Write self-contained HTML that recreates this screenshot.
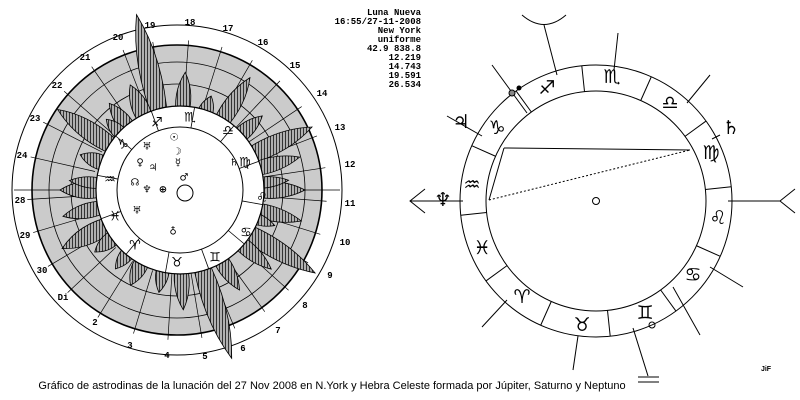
<!DOCTYPE html>
<html><head><meta charset="utf-8"><style>
html,body{margin:0;padding:0;background:#fff;width:800px;height:400px;overflow:hidden}
svg{display:block}
.m{font-family:"Liberation Mono",monospace;font-weight:bold;font-size:9px}
.n{font-family:"Liberation Mono",monospace;font-weight:bold;font-size:9px}
.g{font-family:"DejaVu Sans",sans-serif;font-size:12px;text-anchor:middle;dominant-baseline:central;font-weight:bold}
</style></head><body>
<svg id="s" width="800" height="400" viewBox="0 0 800 400" xmlns="http://www.w3.org/2000/svg">
<defs>
<pattern id="hatch" width="3" height="3" patternUnits="userSpaceOnUse"><rect width="3" height="3" fill="#b0b0b0"/><rect width="1" height="3" fill="#333"/></pattern>
</defs>
<circle cx="177" cy="190" r="165" fill="#fff" stroke="#000" stroke-width="1"/>
<circle cx="177" cy="190" r="145" fill="#cbcbcb" stroke="#000" stroke-width="1.6"/>
<circle cx="177" cy="190" r="128" fill="none" stroke="#000" stroke-width="0.8"/>
<circle cx="177" cy="190" r="106" fill="none" stroke="#000" stroke-width="0.8"/>
<g id="rad"></g>
<line x1="14" y1="190" x2="340" y2="190" stroke="#000" stroke-width="0.8"/>
<g id="pet"></g>
<circle cx="180" cy="190" r="84" fill="#fff" stroke="#000" stroke-width="1.2"/>
<circle cx="180" cy="190" r="63" fill="#fff" stroke="#000" stroke-width="1"/>
<g id="lring"></g>
<g class="g" style="font-size:13px">
<text x="157" y="123">♐</text><text x="190" y="118">♏</text><text x="228" y="131">♎</text><text x="245" y="163">♍</text>
<text x="262" y="198">♌</text><text x="246" y="233">♋</text><text x="215" y="258">♊</text><text x="177" y="263">♉</text>
<text x="135" y="246">♈</text><text x="115" y="217">♓</text><text x="110" y="180">♒</text><text x="123" y="145">♑</text>
</g>
<g class="g" style="font-size:10px">
<text x="174" y="138">☉</text><text x="177" y="152">☽</text><text x="178" y="163">☿</text><text x="184" y="178">♂</text>
<text x="163" y="190">⊕</text><text x="147" y="190">♆</text><text x="153" y="168">♃</text><text x="140" y="163">♀</text>
<text x="147" y="147">♅</text><text x="135" y="183">☊</text><text x="137" y="211">♅</text><text x="173" y="232">♁</text><text x="234" y="163">♄</text>
</g>
<circle cx="185" cy="193" r="8" fill="none" stroke="#000"/>
<g class="n" id="nums"></g>
<g class="m" text-anchor="end">
<text x="421" y="15">Luna Nueva</text><text x="421" y="24">16:55/27-11-2008</text><text x="421" y="33">New York</text>
<text x="421" y="42">uniforme</text><text x="421" y="51">42.9 838.8</text><text x="421" y="60">12.219</text>
<text x="421" y="69">14.743</text><text x="421" y="78">19.591</text><text x="421" y="87">26.534</text>
</g>
<circle cx="596" cy="201" r="136" fill="none" stroke="#000" stroke-width="1"/>
<circle cx="596" cy="201" r="110" fill="none" stroke="#000" stroke-width="1"/>
<g id="rring"></g>
<g class="g" style="font-size:19px">
<text x="718" y="218">♌</text><text x="693" y="275">♋</text><text x="645" y="313">♊</text><text x="582" y="325">♉</text>
<text x="522" y="297">♈</text><text x="482" y="248">♓</text><text x="472" y="185">♒</text><text x="497" y="128">♑</text>
<text x="547" y="88">♐</text><text x="612" y="77">♏</text><text x="670" y="103">♎</text><text x="711" y="153">♍</text>
<text x="731" y="128">♄</text><text x="461" y="122">♃</text><text x="443" y="200">♆</text>
</g>
<g stroke="#000" stroke-width="1" fill="none">
<path d="M522 15 Q544 34 566 15"/><line x1="544" y1="25" x2="557" y2="75"/>
<line x1="618" y1="33" x2="614" y2="70"/>
<line x1="710" y1="75" x2="687" y2="103"/>
<line x1="720" y1="135" x2="712" y2="139"/>
<line x1="728" y1="201" x2="780" y2="201"/><polyline points="795,189 780,201 795,213"/>
<line x1="710" y1="267" x2="743" y2="287"/>
<line x1="673" y1="287" x2="700" y2="335"/>
<line x1="633" y1="328" x2="648" y2="376"/><line x1="638" y1="377" x2="659" y2="377"/><line x1="638" y1="382" x2="659" y2="382"/>
<line x1="578" y1="336" x2="573" y2="370"/>
<line x1="507" y1="300" x2="482" y2="327"/>
<line x1="410" y1="201" x2="463" y2="201"/><polyline points="425,189 410,201 425,213"/>
<line x1="447" y1="116" x2="482" y2="136"/>
<line x1="492" y1="65" x2="527" y2="113"/>
<line x1="504" y1="148" x2="690" y2="150"/><line x1="504" y1="148" x2="489" y2="200"/>
<line x1="489" y1="200" x2="690" y2="150" stroke-dasharray="2,2"/>
<circle cx="596" cy="201" r="3.5"/><circle cx="652" cy="325" r="3"/>
</g>
<circle cx="512" cy="93" r="3" fill="#888" stroke="#000"/><circle cx="519" cy="88" r="2.5" fill="#000"/>
<text x="766" y="371" font-family="Liberation Sans,sans-serif" font-size="7" font-weight="bold" text-anchor="middle">JiF</text>
<text x="332" y="389" font-family="Liberation Sans,sans-serif" font-size="11" text-anchor="middle">Gráfico de astrodinas de la lunación del 27 Nov 2008 en N.York y Hebra Celeste formada por Júpiter, Saturno y Neptuno</text>
</svg>
<script>
var NS="http://www.w3.org/2000/svg";
function el(p,t,a){var e=document.createElementNS(NS,t);for(var k in a)e.setAttribute(k,a[k]);p.appendChild(e);return e;}
var cx=177,cy=190,R=Math.PI/180;
var nums=[["19",150,25],["18",190,22],["17",228,28],["16",263,42],["15",295,65],["14",322,93],["13",340,127],["12",350,164],["11",350,203],["10",345,242],["9",330,275],["8",305,305],["7",278,330],["6",243,348],["5",205,356],["4",167,355],["3",130,345],["2",95,322],["Di",63,297],["30",42,270],["29",25,235],["28",20,200],["24",22,155],["23",35,118],["22",57,85],["21",85,57],["20",118,37]];
var ng=document.getElementById("nums"),rg=document.getElementById("rad");
nums.forEach(function(n){var t=el(ng,"text",{x:n[1],y:n[2]+3,"text-anchor":"middle"});t.textContent=n[0];
var a=Math.atan2(n[2]-cy,n[1]-cx);
el(rg,"line",{x1:cx+84*Math.cos(a),y1:cy+84*Math.sin(a),x2:cx+150*Math.cos(a),y2:cy+150*Math.sin(a),stroke:"#000","stroke-width":"0.7"});});
var P=[[-103,180,11],[72,177,11],[-146,144,10],[153,129,10],[180,117,9],[0,128,9],[-25,149,10],[31,161,10],[-57,134,9],[-15,127,8],[14,128,8],[167,117,8],[143,103,8],[87,120,8],[58,118,8],[116,106,8],[-86,118,8],[-70,100,8],[-114,115,9],[-128,110,8],[-160,103,8],[40,123,8],[-41,113,8],[-5,112,6],[100,104,7],[128,100,7],[-175,108,6],[-135,100,7],[20,104,6]];
var pg=document.getElementById("pet");
P.forEach(function(p){var a=p[0]*R,r0=70,r1=p[1],w=p[2];
var ux=Math.cos(a),uy=Math.sin(a),vx=-uy,vy=ux;
var bx=cx+r0*ux,by=cy+r0*uy,tx=cx+r1*ux,ty=cy+r1*uy,m=r0+(r1-r0)*0.55;
var mx=cx+m*ux,my=cy+m*uy;
var d="M"+(bx+vx*w*0.6)+" "+(by+vy*w*0.6)+" Q"+(mx+vx*w*1.5)+" "+(my+vy*w*1.5)+" "+tx+" "+ty+" Q"+(mx-vx*w*1.5)+" "+(my-vy*w*1.5)+" "+(bx-vx*w*0.6)+" "+(by-vy*w*0.6)+"Z";
el(pg,"path",{d:d,fill:"url(#hatch)",stroke:"#000","stroke-width":"0.8"});});
var lr=document.getElementById("lring");
for(var k=0;k<12;k++){var a=(-80+30*k)*R;el(lr,"line",{x1:180+63*Math.cos(a),y1:190+63*Math.sin(a),x2:180+84*Math.cos(a),y2:190+84*Math.sin(a),stroke:"#000","stroke-width":"0.8"});}
var rr=document.getElementById("rring");
for(var k=0;k<12;k++){var a=(-6+30*k)*R;el(rr,"line",{x1:596+110*Math.cos(a),y1:201+110*Math.sin(a),x2:596+136*Math.cos(a),y2:201+136*Math.sin(a),stroke:"#000","stroke-width":"1"});}
</script>
</body></html>
